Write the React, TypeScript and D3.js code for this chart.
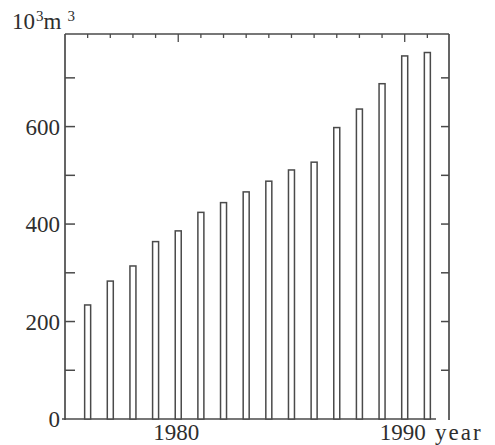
import React, { useEffect, useRef } from "react";
import * as d3 from "d3";

// yearly values, 10^3 m^3
const years = [1976, 1977, 1978, 1979, 1980, 1981, 1982, 1983, 1984, 1985, 1986, 1987, 1988, 1989, 1990, 1991];
const volumes = [234, 283, 314, 364, 386, 424, 444, 466, 488, 511, 527, 598, 636, 688, 745, 752];
const yTickLabels = [0, 200, 400, 600];
const yMinorTicks = [100, 300, 500, 700];
const xLabelYears = [1980, 1990];

const W = 495, H = 445;
const ink = "#4a4a4a";
const textInk = "#2e2e2e";
const font = "'Liberation Serif', 'DejaVu Serif', serif";

export default function App() {
  const ref = useRef<SVGSVGElement>(null);

  useEffect(() => {
    const svg = d3.select(ref.current);
    svg.selectAll("*").remove();

    const left = 65, right = 449, top = 34, bottom = 419;

    const x = d3.scaleLinear().domain([1975, 1992]).range([left, 450]);
    const y = d3.scaleLinear().domain([0, 790]).range([bottom, top]);

    const g = svg.append("g");

    // frame: left, top, right, and the base line
    g.append("line").attr("x1", left).attr("x2", left).attr("y1", top).attr("y2", bottom + 1)
      .attr("stroke", ink).attr("stroke-width", 1.7);
    g.append("line").attr("x1", left).attr("x2", right).attr("y1", top).attr("y2", top)
      .attr("stroke", ink).attr("stroke-width", 1.7);
    g.append("line").attr("x1", right).attr("x2", right).attr("y1", top).attr("y2", bottom + 1)
      .attr("stroke", ink).attr("stroke-width", 1.7);
    g.append("line").attr("x1", left - 3).attr("x2", 436).attr("y1", bottom).attr("y2", bottom)
      .attr("stroke", ink).attr("stroke-width", 1.7);

    // y ticks (inward on both sides)
    const allY = yTickLabels.concat(yMinorTicks).filter(v => v > 0);
    allY.forEach(v => {
      g.append("line").attr("x1", left).attr("x2", left + 10).attr("y1", y(v)).attr("y2", y(v))
        .attr("stroke", ink).attr("stroke-width", 1.5);
      g.append("line").attr("x1", right - 8).attr("x2", right).attr("y1", y(v)).attr("y2", y(v))
        .attr("stroke", ink).attr("stroke-width", 1.5);
    });

    g.selectAll("text.ylab")
      .data(yTickLabels)
      .enter().append("text")
      .attr("class", "ylab")
      .attr("x", left - 5)
      .attr("y", d => y(d) + 8)
      .attr("text-anchor", "end")
      .attr("font-family", font)
      .attr("font-size", 23)
      .attr("fill", textInk)
      .text(d => d);

    // top ticks, one per year
    years.forEach(yr => {
      const long = xLabelYears.includes(yr);
      g.append("line").attr("x1", x(yr)).attr("x2", x(yr)).attr("y1", top).attr("y2", top + (long ? 8 : 4))
        .attr("stroke", ink).attr("stroke-width", 1.3);
    });

    // bars
    g.selectAll("rect.bar")
      .data(volumes)
      .enter().append("rect")
      .attr("class", "bar")
      .attr("x", (d, i) => x(years[i]) - 3)
      .attr("y", d => y(d))
      .attr("width", 6)
      .attr("height", d => bottom - y(d))
      .attr("fill", "white")
      .attr("stroke", ink)
      .attr("stroke-width", 1.5);

    // x labels
    g.selectAll("text.xlab")
      .data(xLabelYears)
      .enter().append("text")
      .attr("class", "xlab")
      .attr("x", d => x(d) - 2)
      .attr("y", 440)
      .attr("text-anchor", "middle")
      .attr("font-family", font)
      .attr("font-size", 23)
      .attr("fill", textInk)
      .text(d => d);

    g.append("text")
      .attr("x", 435).attr("y", 440)
      .attr("font-family", font)
      .attr("font-size", 23)
      .attr("letter-spacing", 2)
      .attr("fill", textInk)
      .text("year");

    // unit label
    const unit = g.append("text")
      .attr("x", 12).attr("y", 29)
      .attr("font-family", font)
      .attr("font-size", 23)
      .attr("fill", textInk);
    unit.append("tspan").text("10");
    unit.append("tspan").attr("font-size", 15).attr("dy", -8).attr("dx", 1).text("3");
    unit.append("tspan").attr("dy", 8).text("m");
    unit.append("tspan").attr("font-size", 15).attr("dy", -8).attr("dx", 6).text("3");
  }, []);

  return (
    <svg ref={ref} width={W} height={H}
      style={{ position: "absolute", left: 0, top: 0, background: "white" }} />
  );
}
